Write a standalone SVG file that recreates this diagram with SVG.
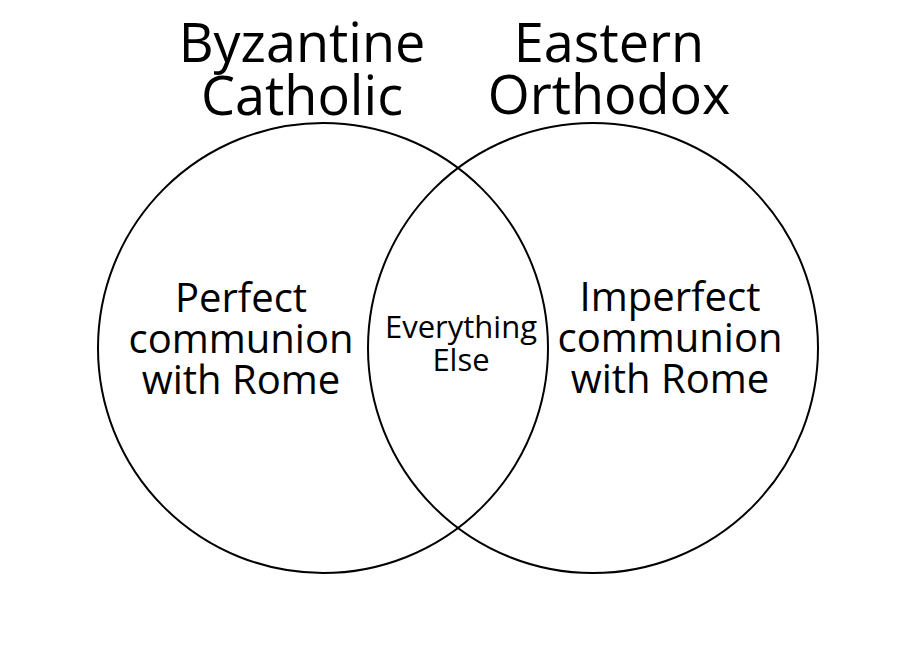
<svg xmlns="http://www.w3.org/2000/svg" width="908" height="664" viewBox="0 0 908 664">
<style>
text{font-family:"Open Sans","Noto Sans",sans-serif;fill:#000;text-anchor:middle}
.t{font-size:54px}
.m{font-size:40px}
.s{font-size:31px}
circle{fill:none;stroke:#000;stroke-width:2}
</style>
<rect width="908" height="664" fill="#fff"/>
<g id="byzantine">
<circle cx="323" cy="348" r="225"/>
<text class="t" x="302" y="62">Byzantine</text>
<text class="t" x="302" y="115">Catholic</text>
<text class="m" x="241" y="312">Perfect</text>
<text class="m" x="241" y="353">communion</text>
<text class="m" x="241" y="394">with Rome</text>
</g>
<g id="orthodox">
<circle cx="593" cy="348" r="225"/>
<text class="t" x="609" y="62">Eastern</text>
<text class="t" x="609" y="114">Orthodox</text>
<text class="m" x="670" y="311">Imperfect</text>
<text class="m" x="670" y="352">communion</text>
<text class="m" x="670" y="393">with Rome</text>
</g>
<g id="overlap">
<text class="s" x="461" y="338">Everything</text>
<text class="s" x="461" y="371">Else</text>
</g>
<g id="connectors"/>
</svg>
